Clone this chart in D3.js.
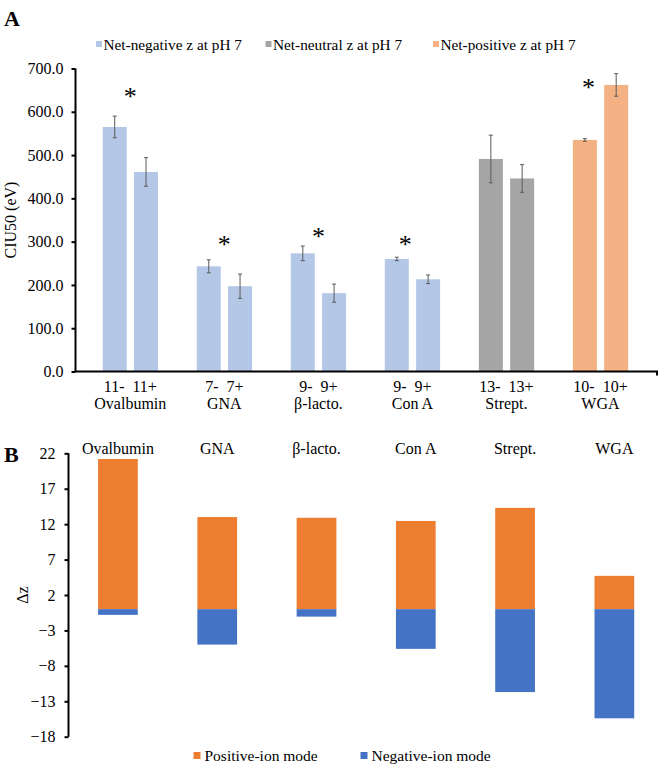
<!DOCTYPE html>
<html>
<head>
<meta charset="utf-8">
<script src="https://cdn.jsdelivr.net/npm/d3@7/dist/d3.min.js"></script>
<style>
  html, body { margin: 0; padding: 0; background: #fff; }
  svg { display: block; }
  text { font-family: "Liberation Serif", "Times New Roman", serif; fill: #000; }
</style>
</head>
<body>
<svg id="chart" width="661" height="765"></svg>
<script>
// ---------- DATA ----------
const proteins = ["Ovalbumin", "GNA", "β-lacto.", "Con A", "Strept.", "WGA"];
const chargeStates = ["11-  11+", "7-  7+", "9-  9+", "9-  9+", "13-  13+", "10-  10+"];
const chargeClass = ["neg", "neg", "neg", "neg", "neu", "pos"];
const ciuNeg = [565, 243, 273, 260, 491, 535];      // negative-ion CIU50 (eV)
const ciuPos = [461, 197, 181, 213, 446, 662];      // positive-ion CIU50 (eV)
const errNeg = [25, 15, 17, 4, 55, 3];
const errPos = [33, 28, 21, 10, 32, 26];
const starLevel = [646, 303, 322, 303, null, 666];  // asterisk heights (eV)
const starShift = [0, 0, 0, -0.3, 0, -0.5];        // asterisk shift in bar widths
const ciuTicks = [0, 100, 200, 300, 400, 500, 600, 700];
const legendA = ["Net-negative z at pH 7", "Net-neutral z at pH 7", "Net-positive z at pH 7"];

const dzPos = [21.2, 13.0, 12.9, 12.45, 14.3, 4.7]; // Positive-ion mode Δz
const dzNeg = [-0.8, -5.0, -1.05, -5.6, -11.7, -15.4]; // Negative-ion mode Δz
const dzTicks = [-18, -13, -8, -3, 2, 7, 12, 17, 22];
const legendB = ["Positive-ion mode", "Negative-ion mode"];

// ---------- STYLE ----------
const classColor = { neg: "#b4c7e7", neu: "#a5a5a5", pos: "#f4b183" };
const colPosB = "#ed7d31", colNegB = "#4472c4";
const FS = 16;

const svg = d3.select("#chart");

// ================= PANEL A =================
const A = { left: 75.5, right: 657, top: 68.5, bottom: 371.5 };
const xA = d3.scaleBand().domain(proteins).range([83.3, 647.5]).padding(0);
const xInner = d3.scaleBand().domain(["-", "+"]).range([-27.6, 27.7]).paddingInner(0.233);
const yA = d3.scaleLinear().domain([0, 700]).range([A.bottom, A.top]);

const gA = svg.append("g");
const cx = p => xA(p) + xA.bandwidth() / 2;

const barsA = [];
proteins.forEach((p, i) => {
  barsA.push({ p, i, s: "-", v: ciuNeg[i], e: errNeg[i] });
  barsA.push({ p, i, s: "+", v: ciuPos[i], e: errPos[i] });
});

gA.selectAll("rect.bar").data(barsA).join("rect")
  .attr("class", "bar")
  .attr("x", d => cx(d.p) + xInner(d.s))
  .attr("width", xInner.bandwidth())
  .attr("y", d => yA(d.v))
  .attr("height", d => yA(0) - yA(d.v))
  .attr("fill", d => classColor[chargeClass[d.i]]);

// error bars
const eb = gA.selectAll("g.err").data(barsA).join("g").attr("class", "err")
  .attr("stroke", "#5a5a5a").attr("stroke-width", 1);
eb.append("line")
  .attr("x1", d => cx(d.p) + xInner(d.s) + xInner.bandwidth() / 2)
  .attr("x2", d => cx(d.p) + xInner(d.s) + xInner.bandwidth() / 2)
  .attr("y1", d => yA(d.v + d.e)).attr("y2", d => yA(d.v - d.e));
[1, -1].forEach(sgn => {
  eb.append("line")
    .attr("x1", d => cx(d.p) + xInner(d.s) + xInner.bandwidth() / 2 - 2)
    .attr("x2", d => cx(d.p) + xInner(d.s) + xInner.bandwidth() / 2 + 2)
    .attr("y1", d => yA(d.v + sgn * d.e)).attr("y2", d => yA(d.v + sgn * d.e));
});

// asterisks
gA.selectAll("text.star").data(proteins.map((p, i) => ({ p, i })).filter(d => starLevel[d.i] != null))
  .join("text").attr("class", "star")
  .attr("x", d => cx(d.p) + starShift[d.i] * xInner.bandwidth())
  .attr("y", d => yA(starLevel[d.i]) + 13)
  .attr("text-anchor", "middle")
  .style("font-size", "26px")
  .text("*");

// y axis A
const axA = gA.append("g").attr("transform", `translate(${A.left},0)`)
  .call(d3.axisLeft(yA).tickValues(ciuTicks).tickFormat(d3.format(".1f")).tickSize(4).tickPadding(8));
axA.select(".domain").attr("stroke", "#000").attr("stroke-width", 2)
  .attr("d", `M0,${A.top}V${A.bottom}`);
axA.selectAll(".tick line").attr("stroke", "#000").attr("stroke-width", 2);
axA.selectAll(".tick text").style("font-family", "Liberation Serif").style("font-size", FS + "px").attr("fill", "#000");

// x axis line A
gA.append("path")
  .attr("d", `M${A.left - 1},${A.bottom}H${A.right}v4`)
  .attr("fill", "none").attr("stroke", "#000").attr("stroke-width", 2);

// category labels A
gA.selectAll("text.chg").data(proteins).join("text").attr("class", "chg")
  .attr("x", d => cx(d)).attr("y", 392).attr("text-anchor", "middle")
  .style("font-size", FS + "px").style("white-space", "pre").attr("xml:space", "preserve")
  .text((d, i) => chargeStates[i]);
gA.selectAll("text.nm").data(proteins).join("text").attr("class", "nm")
  .attr("x", d => cx(d)).attr("y", 408.8).attr("text-anchor", "middle")
  .style("font-size", FS + "px").text(d => d);

// axis title A
gA.append("text").attr("transform", "translate(16,220) rotate(-90)")
  .attr("text-anchor", "middle").style("font-size", FS + "px").text("CIU50 (eV)");

// panel letter
svg.append("text").attr("x", 4).attr("y", 26).style("font-size", "22px").style("font-weight", "bold").text("A");

// legend A
const legAx = [96, 265.5, 433];
const legA = gA.selectAll("g.legA").data(legendA).join("g").attr("class", "legA")
  .attr("transform", (d, i) => `translate(${legAx[i]},44)`);
legA.append("rect").attr("x", 0).attr("y", -3).attr("width", 6).attr("height", 6)
  .attr("fill", (d, i) => classColor[["neg", "neu", "pos"][i]]);
legA.append("text").attr("x", 7.5).attr("y", 5.5).style("font-size", "15.3px").text(d => d);

// ================= PANEL B =================
const B = { left: 68.5, top: 453.3, bottom: 736.7 };
const xB = d3.scaleBand().domain(proteins).range([68.3, 664]).paddingInner(0.6).paddingOuter(0.3);
const yB = d3.scaleLinear().domain([-18, 22]).range([B.bottom, B.top]);
const gB = svg.append("g");

gB.selectAll("rect.pos").data(proteins).join("rect").attr("class", "pos")
  .attr("x", d => xB(d)).attr("width", xB.bandwidth())
  .attr("y", (d, i) => yB(dzPos[i])).attr("height", (d, i) => yB(0) - yB(dzPos[i]))
  .attr("fill", colPosB);
gB.selectAll("rect.neg").data(proteins).join("rect").attr("class", "neg")
  .attr("x", d => xB(d)).attr("width", xB.bandwidth())
  .attr("y", yB(0)).attr("height", (d, i) => yB(dzNeg[i]) - yB(0))
  .attr("fill", colNegB);

const axB = gB.append("g").attr("transform", `translate(${B.left},0)`)
  .call(d3.axisLeft(yB).tickValues(dzTicks).tickFormat(d3.format("d")).tickSize(4).tickPadding(9));
axB.select(".domain").attr("stroke", "#000").attr("stroke-width", 2)
  .attr("d", `M0,${B.top}V${B.bottom}`);
axB.selectAll(".tick line").attr("stroke", "#000").attr("stroke-width", 2);
axB.selectAll(".tick text").style("font-family", "Liberation Serif").style("font-size", FS + "px").attr("fill", "#000");

gB.selectAll("text.nmB").data(proteins).join("text").attr("class", "nmB")
  .attr("x", d => xB(d) + xB.bandwidth() / 2).attr("y", 454).attr("text-anchor", "middle")
  .style("font-size", FS + "px").text(d => d);

gB.append("text").attr("transform", "translate(28,595) rotate(-90)")
  .attr("text-anchor", "middle").style("font-size", FS + "px").text("Δz");

svg.append("text").attr("x", 4).attr("y", 462).style("font-size", "22px").style("font-weight", "bold").text("B");

const legBx = [193.5, 360.5];
const legB = gB.selectAll("g.legB").data(legendB).join("g").attr("class", "legB")
  .attr("transform", (d, i) => `translate(${legBx[i]},755.5)`);
legB.append("rect").attr("x", 0).attr("y", -3.5).attr("width", 7).attr("height", 7)
  .attr("fill", (d, i) => i === 0 ? colPosB : colNegB);
legB.append("text").attr("x", 11).attr("y", 5).style("font-size", "15.5px").text(d => d);
</script>
</body>
</html>
